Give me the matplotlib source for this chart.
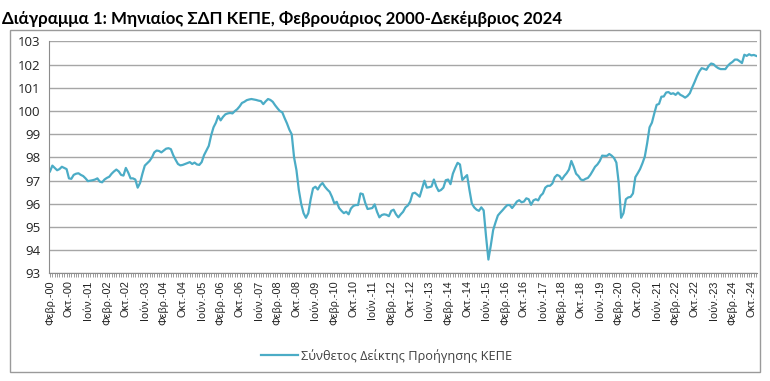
import numpy as np
import matplotlib
matplotlib.use("Agg")
import matplotlib.pyplot as plt
from matplotlib.patches import Rectangle

# monthly index values, Feb 2000 - Dec 2024
y2000 = [97.4, 97.65, 97.55, 97.45, 97.5, 97.6, 97.55, 97.5, 97.1, 97.08, 97.25]
y2001 = [97.3, 97.32, 97.25, 97.2, 97.1, 96.98, 97.0, 97.02, 97.05, 97.1, 96.96, 96.93]
y2002 = [97.05, 97.12, 97.17, 97.3, 97.4, 97.48, 97.4, 97.25, 97.22, 97.55, 97.35, 97.1]
y2003 = [97.1, 97.05, 96.7, 96.9, 97.3, 97.65, 97.75, 97.85, 98.0, 98.22, 98.3, 98.28]
y2004 = [98.22, 98.3, 98.38, 98.4, 98.36, 98.1, 97.9, 97.72, 97.66, 97.68, 97.72, 97.76]
y2005 = [97.8, 97.72, 97.78, 97.7, 97.68, 97.8, 98.1, 98.3, 98.5, 98.95, 99.3, 99.5]
y2006 = [99.79, 99.6, 99.75, 99.86, 99.9, 99.92, 99.9, 100.0, 100.08, 100.2, 100.35, 100.4]
y2007 = [100.47, 100.5, 100.52, 100.5, 100.48, 100.45, 100.43, 100.3, 100.42, 100.52, 100.48, 100.4]
y2008 = [100.25, 100.12, 100.0, 99.95, 99.7, 99.47, 99.2, 99.0, 98.0, 97.45, 96.6, 96.0]
y2009 = [95.6, 95.4, 95.6, 96.2, 96.67, 96.74, 96.62, 96.8, 96.9, 96.74, 96.62, 96.52]
y2010 = [96.3, 96.02, 96.09, 95.82, 95.7, 95.6, 95.66, 95.55, 95.8, 95.91, 95.95, 95.95]
y2011 = [96.45, 96.42, 96.05, 95.78, 95.8, 95.82, 95.98, 95.66, 95.42, 95.52, 95.55, 95.53]
y2012 = [95.47, 95.7, 95.75, 95.55, 95.42, 95.55, 95.66, 95.85, 95.93, 96.1, 96.45, 96.48]
y2013 = [96.4, 96.31, 96.65, 97.0, 96.7, 96.72, 96.75, 97.05, 96.75, 96.55, 96.6, 96.7]
y2014 = [97.02, 97.05, 96.85, 97.3, 97.55, 97.77, 97.7, 97.03, 97.14, 97.24, 96.6, 96.02]
y2015 = [95.85, 95.75, 95.7, 95.85, 95.72, 94.6, 93.6, 94.2, 94.87, 95.2, 95.5, 95.62]
y2016 = [95.73, 95.85, 95.95, 95.95, 95.82, 95.95, 96.1, 96.16, 96.07, 96.1, 96.24, 96.2]
y2017 = [95.96, 96.15, 96.2, 96.15, 96.35, 96.45, 96.7, 96.78, 96.78, 96.88, 97.15, 97.25]
y2018 = [97.2, 97.05, 97.2, 97.32, 97.48, 97.85, 97.6, 97.3, 97.2, 97.05, 97.02, 97.08]
y2019 = [97.12, 97.25, 97.42, 97.6, 97.7, 97.85, 98.08, 98.07, 98.07, 98.15, 98.08, 97.98]
y2020 = [97.78, 96.9, 95.4, 95.6, 96.2, 96.28, 96.3, 96.45, 97.15, 97.32, 97.5, 97.75]
y2021 = [98.04, 98.62, 99.3, 99.5, 99.9, 100.27, 100.31, 100.62, 100.63, 100.8, 100.82, 100.74]
y2022 = [100.77, 100.7, 100.8, 100.7, 100.65, 100.58, 100.65, 100.77, 101.02, 101.25, 101.5, 101.71]
y2023 = [101.85, 101.82, 101.78, 101.95, 102.05, 102.02, 101.92, 101.85, 101.81, 101.81, 101.81, 101.95]
y2024 = [102.05, 102.12, 102.22, 102.22, 102.15, 102.07, 102.43, 102.38, 102.45, 102.4, 102.42, 102.38]

values = (y2000 + y2001 + y2002 + y2003 + y2004 + y2005 + y2006 + y2007 + y2008
          + y2009 + y2010 + y2011 + y2012 + y2013 + y2014 + y2015 + y2016 + y2017
          + y2018 + y2019 + y2020 + y2021 + y2022 + y2023 + y2024)

month_names = ["Ιαν.", "Φεβρ.", "Μαρ.", "Απρ.", "Μαΐου", "Ιούν.", "Ιούλ.",
               "Αυγ.", "Σεπτ.", "Οκτ.", "Νοέμ.", "Δεκ."]
labels = []
for k in range(len(values)):
    m = (1 + k) % 12
    yr = 2000 + (1 + k) // 12
    labels.append(f"{month_names[m]}-{yr % 100:02d}")

title = "Διάγραμμα 1: Μηνιαίος ΣΔΠ ΚΕΠΕ, Φεβρουάριος 2000-Δεκέμβριος 2024"
series_name = "Σύνθετος Δείκτης Προήγησης ΚΕΠΕ"

plt.rcParams["font.family"] = ["Liberation Sans", "DejaVu Sans"]

fig = plt.figure(figsize=(7.7, 3.81), dpi=100)
ax = fig.add_axes([0.0634, 0.2822, 0.9202, 0.6089])

# chart area border
fig.patches.append(Rectangle((0.013, 0.024), 0.974, 0.897, transform=fig.transFigure,
                             fill=False, edgecolor="#9a9a9a", linewidth=1.0))

x = np.arange(len(values))
line, = ax.plot(x, values, color="#4BACC6", linewidth=1.6, label=series_name)

ax.set_xlim(-0.5, len(values) - 0.5)
ax.set_ylim(93, 103)
ax.set_yticks(range(93, 104))
ax.grid(axis="y", color="#a6a6a6", linewidth=1.0)
ax.set_axisbelow(True)

ax.set_xticks(x[::8])
ax.set_xticklabels(labels[::8], rotation=90, fontsize=7.8, color="#222222")
ax.set_xticks(x, minor=True)
ax.tick_params(axis="x", which="both", direction="out", length=3, color="#8c8c8c",
               width=0.6, pad=2)
ax.tick_params(axis="y", length=0, labelsize=9.5, labelcolor="#222222", pad=6)
for t in ax.get_yticklabels():
    t.set_family(["Open Sans", "DejaVu Sans"])

for s in ["top", "right"]:
    ax.spines[s].set_visible(False)
ax.spines["left"].set_color("#8c8c8c")
ax.spines["bottom"].set_color("#8c8c8c")

fig.text(0.003, 0.949, title, fontsize=12.2, fontweight="bold",
         family=["Lato", "DejaVu Sans"], ha="left", va="center")

fig.legend(handles=[line], labels=[series_name], loc="center",
           bbox_to_anchor=(0.502, 0.066), frameon=False,
           prop={"family": ["Open Sans", "DejaVu Sans"], "size": 9.2},
           handlelength=2.9, handletextpad=0.3, labelcolor="#404040")

fig.savefig("out.png", dpi=100)
